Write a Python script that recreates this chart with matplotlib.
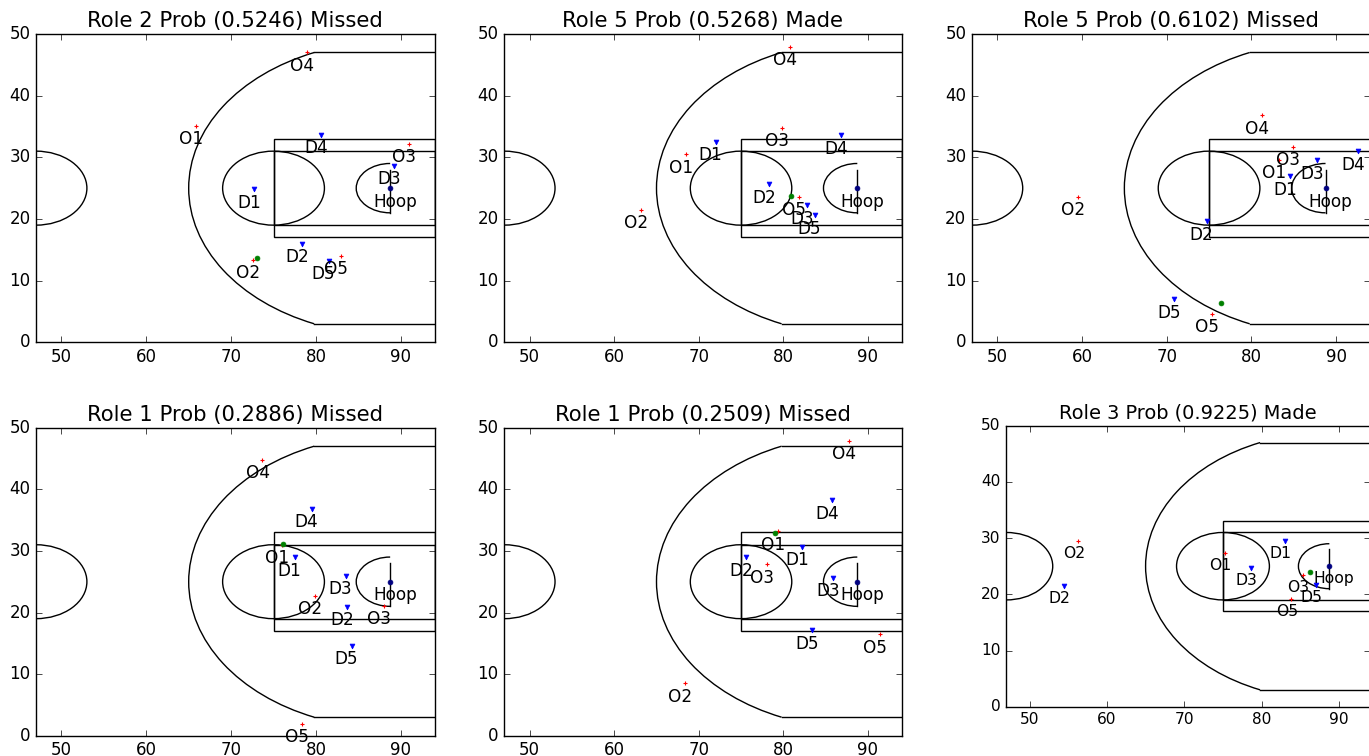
import matplotlib
matplotlib.use("Agg")
import matplotlib.pyplot as plt
from matplotlib.patches import Circle, Arc, Rectangle

plt.style.use('classic')
plt.rcParams['font.family'] = ['DejaVu Sans']

# ---- data ----
titles = ["Role 2 Prob (0.5246) Missed", "Role 5 Prob (0.5268) Made",
          "Role 5 Prob (0.6102) Missed", "Role 1 Prob (0.2886) Missed",
          "Role 1 Prob (0.2509) Missed", "Role 3 Prob (0.9225) Made"]

off_labels = ["O1", "O2", "O3", "O4", "O5"]
def_labels = ["D1", "D2", "D3", "D4", "D5"]

off_x = [[65.9, 72.6, 91.0, 78.9, 82.95],
         [68.5, 63.2, 79.8, 80.8, 81.9],
         [83.2, 59.5, 84.9, 81.3, 75.3],
         [76.0, 79.9, 88.0, 73.7, 78.4],
         [79.4, 68.4, 78.1, 87.8, 91.4],
         [75.2, 56.3, 85.3, None, 83.85]]
off_y = [[35.1, 13.4, 32.2, 47.0, 14.0],
         [30.5, 21.5, 34.8, 47.95, 23.6],
         [29.6, 23.6, 31.7, 36.8, 4.6],
         [31.0, 22.7, 21.1, 44.8, 1.9],
         [33.2, 8.55, 27.8, 47.9, 16.5],
         [27.3, 29.5, 23.4, None, 19.2]]

def_x = [[72.7, 78.4, 89.2, 80.6, 81.5],
         [72.0, 78.3, 82.8, 86.8, 83.7],
         [84.6, 74.7, 87.8, 92.6, 70.9],
         [77.5, 83.7, 83.5, 79.5, 84.2],
         [82.2, 75.6, 85.9, 85.8, 83.4],
         [83.0, 54.4, 78.6, None, 87.0]]
def_y = [[24.8, 15.95, 28.65, 33.7, 13.2],
         [32.5, 25.6, 22.2, 33.6, 20.6],
         [26.9, 19.6, 29.5, 31.0, 7.0],
         [29.0, 20.9, 26.0, 36.85, 14.6],
         [30.7, 29.0, 25.6, 38.2, 17.1],
         [29.5, 21.5, 24.6, None, 21.6]]

ball_x = [73.05, 80.9, 76.4, 76.1, 79.0, 86.2]
ball_y = [13.6, 23.7, 6.3, 31.1, 32.95, 24.0]

hoop_x, hoop_y = 88.75, 25.0

x_ticks = [50, 60, 70, 80, 90]
y_ticks = [0, 10, 20, 30, 40, 50]

# ---- layout (pixel boxes: left, right, top, bottom) ----
W, H = 1369, 756
boxes = [(36, 434.7, 34, 342.3), (504.3, 901.7, 34, 342.3), (971.9, 1370, 34, 342.3),
         (36, 434.7, 427.7, 735.7), (504.3, 901.7, 427.7, 735.7), (1006.3, 1370, 425.7, 706.7)]
scales = [1, 1, 1, 1, 1, 0.92]

fig = plt.figure(figsize=(W / 100, H / 100), dpi=100, facecolor='white')


def draw_court(ax):
    kw = dict(color='black', lw=1.0, fill=False)
    ax.add_patch(Circle((47, 25), 6, **kw))
    ax.add_patch(Arc((hoop_x, hoop_y), 47.5, 47.5, theta1=112.15, theta2=247.85, color='black', lw=1.0))
    ax.plot([79.8, 94], [47, 47], color='black', lw=1.0)
    ax.plot([79.8, 94], [3, 3], color='black', lw=1.0)
    ax.add_patch(Rectangle((75, 17), 19, 16, **kw))
    ax.add_patch(Rectangle((75, 19), 19, 12, **kw))
    ax.add_patch(Circle((75, 25), 6, **kw))
    ax.add_patch(Arc((hoop_x, hoop_y), 8, 8, theta1=90, theta2=270, color='black', lw=1.0))
    ax.plot([hoop_x, hoop_x], [21, 28], color='black', lw=1.0)


for i in range(6):
    l, r, t, b = boxes[i]
    s = scales[i]
    ax = fig.add_axes([l / W, 1 - b / H, (r - l) / W, (b - t) / H])
    ax.set_facecolor('white')
    draw_court(ax)
    for j in range(5):
        if off_x[i][j] is not None:
            ax.plot(off_x[i][j], off_y[i][j], 'r+', ms=3.5, mew=0.8)
            ax.text(off_x[i][j] - 2, off_y[i][j] - 3, off_labels[j], fontsize=12.2 * s)
        if def_x[i][j] is not None:
            ax.plot(def_x[i][j], def_y[i][j], 'bv', ms=3.5, mec='b')
            ax.text(def_x[i][j] - 2, def_y[i][j] - 3, def_labels[j], fontsize=12.2 * s)
    ax.plot(ball_x[i], ball_y[i], 'o', color='green', mec='green', ms=3.5)
    ax.plot(hoop_x, hoop_y, 'o', color='#000080', mec='#000080', ms=3.5)
    ax.text(hoop_x - 2, hoop_y - 3, "Hoop", fontsize=12.2 * s)
    ax.set_xlim(47, 94)
    ax.set_ylim(0, 50)
    ax.set_xticks(x_ticks)
    ax.set_yticks(y_ticks)
    ax.tick_params(labelsize=12 * s)
    ax.set_title(titles[i], fontsize=15.2 * s)

fig.savefig("out.png", dpi=100, facecolor='white')
